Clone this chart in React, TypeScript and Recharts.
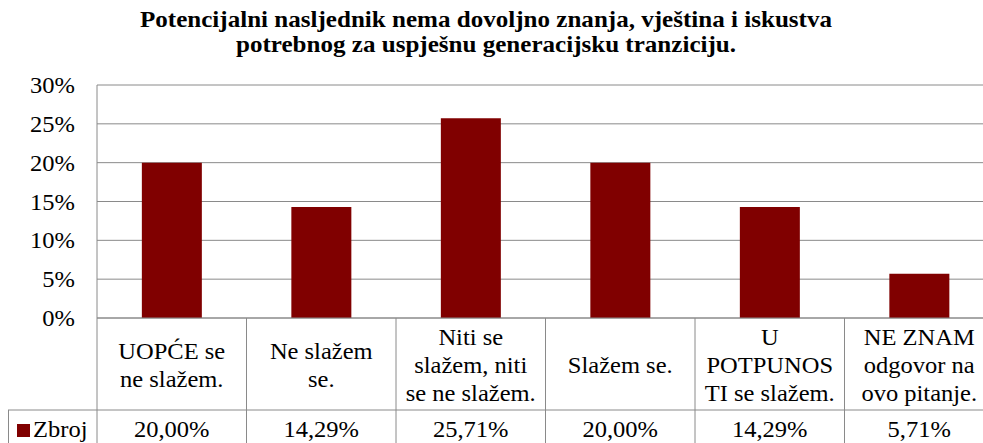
import React from 'react';
import { BarChart, Bar, XAxis, YAxis, CartesianGrid } from 'recharts';

const categories = [
  'UOPĆE se\nne slažem.',
  'Ne slažem\nse.',
  'Niti se\nslažem, niti\nse ne slažem.',
  'Slažem se.',
  'U\nPOTPUNOS\nTI se slažem.',
  'NE ZNAM\nodgovor na\novo pitanje.',
];
const values = [20.0, 14.29, 25.71, 20.0, 14.29, 5.71];
const yTicks = [0, 5, 10, 15, 20, 25, 30];
const seriesName = 'Zbroj';
const titleLines = [
  'Potencijalni nasljednik nema dovoljno znanja, vještina i iskustva',
  'potrebnog za uspješnu generacijsku tranziciju.',
];

const data = categories.map((name, i) => ({ name, value: values[i] }));

const W = 1000;
const H = 443;
const LEFT = 97;
const RIGHT = 6;
const TOP = 85;
const BOTTOM = 125;
const BAND = (W - LEFT - RIGHT) / categories.length;
const LINE = '#8a8a8a';
const BAR = '#800000';
const FONT = 'Liberation Serif';
const SX = 1.09;

const fmt = (v: number) => v.toFixed(2).replace('.', ',') + '%';

const YTick = (props: any) => {
  const { x, y, payload } = props;
  return (
    <text
      transform={`translate(${x},${y + 8}) scale(${SX},1)`}
      textAnchor="end"
      style={{ fontFamily: FONT, fontSize: 22.5 }}
      fill="#000"
    >
      {payload.value}%
    </text>
  );
};

const TableTick = (props: any) => {
  const { x, index } = props;
  const top = H - BOTTOM;
  const rowSplit = 410;
  const lines = categories[index].split('\n');
  const mid = top + 55;
  return (
    <g>
      {index === 0 && (
        <g>
          <line x1={LEFT} y1={top} x2={LEFT} y2={H} stroke={LINE} />
          <line x1={8} y1={rowSplit} x2={W} y2={rowSplit} stroke={LINE} />
          <line x1={8.5} y1={rowSplit} x2={8.5} y2={H} stroke={LINE} />
          <rect x={17} y={424} width={13} height={13} fill={BAR} />
          <text
            transform={`translate(33,437) scale(${SX},1)`}
            style={{ fontFamily: FONT, fontSize: 22.5 }}
            fill="#000"
          >
            {seriesName}
          </text>
        </g>
      )}
      <line x1={x + BAND / 2} y1={top} x2={x + BAND / 2} y2={H} stroke={LINE} />
      {lines.map((ln, i) => (
        <text
          key={i}
          transform={`translate(${x},${mid + (i - (lines.length - 1) / 2) * 28}) scale(${SX},1)`}
          textAnchor="middle"
          style={{ fontFamily: FONT, fontSize: 22.5 }}
          fill="#000"
        >
          {ln}
        </text>
      ))}
      <text
        transform={`translate(${x},437) scale(${SX},1)`}
        textAnchor="middle"
        style={{ fontFamily: FONT, fontSize: 22.5 }}
        fill="#000"
      >
        {fmt(values[index])}
      </text>
    </g>
  );
};

export default function App() {
  return (
    <div
      style={{
        position: 'absolute',
        left: 0,
        top: 0,
        width: 983,
        height: 443,
        overflow: 'hidden',
        background: '#fff',
      }}
    >
      <svg
        width={983}
        height={60}
        style={{ position: 'absolute', left: 0, top: 0 }}
      >
        {titleLines.map((t, i) => (
          <text
            key={i}
            transform={`translate(486,${27 + i * 25}) scale(${SX},1)`}
            textAnchor="middle"
            style={{ fontFamily: FONT, fontSize: 23, fontWeight: 'bold' }}
            fill="#000"
          >
            {t}
          </text>
        ))}
      </svg>
      <BarChart
        width={W}
        height={H}
        data={data}
        margin={{ top: TOP, right: RIGHT, left: 0, bottom: 0 }}
        barCategoryGap="30%"
      >
        <CartesianGrid vertical={false} stroke={LINE} />
        <XAxis
          dataKey="name"
          height={BOTTOM}
          interval={0}
          tickLine={false}
          axisLine={{ stroke: LINE }}
          tick={<TableTick />}
        />
        <YAxis
          width={LEFT}
          domain={[0, 30]}
          ticks={yTicks}
          interval={0}
          tickLine={false}
          tickSize={0}
          tickMargin={22}
          axisLine={{ stroke: LINE }}
          tick={<YTick />}
        />
        <Bar dataKey="value" name={seriesName} fill={BAR} isAnimationActive={false} />
      </BarChart>
    </div>
  );
}
